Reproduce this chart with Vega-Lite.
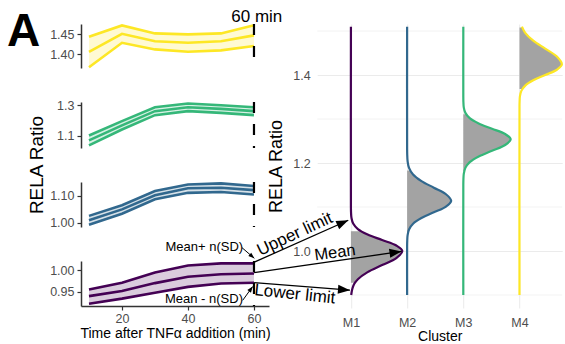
{
  "$schema": "https://vega.github.io/schema/vega-lite/v6.json",
  "padding": {"left": 6, "top": 7, "right": 0, "bottom": 0},
  "spacing": -30.8,
  "config": {
    "font": "Liberation Sans",
    "view": {"stroke": null},
    "text": {"font": "Liberation Sans"},
    "axis": {"labelFont": "Liberation Sans", "titleFont": "Liberation Sans", "labelColor": "#4d4d4d", "titleColor": "#000000", "titleFontWeight": "normal", "labelFlush": false, "labelOverlap": false}
  },
  "datasets": {
    "m1": [
      {"t": 10, "lo": 0.921, "mean": 0.939, "hi": 0.955},
      {"t": 20, "lo": 0.933, "mean": 0.951, "hi": 0.971},
      {"t": 30, "lo": 0.947, "mean": 0.970, "hi": 0.995},
      {"t": 40, "lo": 0.961, "mean": 0.985, "hi": 1.012},
      {"t": 50, "lo": 0.969, "mean": 0.991, "hi": 1.017},
      {"t": 60, "lo": 0.971, "mean": 0.993, "hi": 1.017}
    ],
    "m2": [
      {"t": 10, "lo": 0.993, "mean": 1.010, "hi": 1.026},
      {"t": 20, "lo": 1.034, "mean": 1.050, "hi": 1.065},
      {"t": 30, "lo": 1.087, "mean": 1.102, "hi": 1.118},
      {"t": 40, "lo": 1.111, "mean": 1.128, "hi": 1.142},
      {"t": 50, "lo": 1.114, "mean": 1.130, "hi": 1.146},
      {"t": 60, "lo": 1.105, "mean": 1.121, "hi": 1.136}
    ],
    "m3": [
      {"t": 10, "lo": 1.038, "mean": 1.071, "hi": 1.103},
      {"t": 20, "lo": 1.142, "mean": 1.169, "hi": 1.197},
      {"t": 30, "lo": 1.236, "mean": 1.262, "hi": 1.288},
      {"t": 40, "lo": 1.262, "mean": 1.288, "hi": 1.312},
      {"t": 50, "lo": 1.251, "mean": 1.277, "hi": 1.301},
      {"t": 60, "lo": 1.236, "mean": 1.262, "hi": 1.288}
    ],
    "m4": [
      {"t": 10, "lo": 1.368, "mean": 1.4065, "hi": 1.444},
      {"t": 20, "lo": 1.429, "mean": 1.4515, "hi": 1.4725},
      {"t": 30, "lo": 1.4125, "mean": 1.433, "hi": 1.4525},
      {"t": 40, "lo": 1.4065, "mean": 1.429, "hi": 1.450},
      {"t": 50, "lo": 1.410, "mean": 1.433, "hi": 1.4525},
      {"t": 60, "lo": 1.421, "mean": 1.4475, "hi": 1.473}
    ],
    "dens": [
      {"cluster": "M1", "r": 0.900, "x": 1.005},
      {"cluster": "M1", "r": 0.912, "x": 1.021},
      {"cluster": "M1", "r": 0.920, "x": 1.040},
      {"cluster": "M1", "r": 0.928, "x": 1.073},
      {"cluster": "M1", "r": 0.936, "x": 1.124},
      {"cluster": "M1", "r": 0.952, "x": 1.297},
      {"cluster": "M1", "r": 0.968, "x": 1.555},
      {"cluster": "M1", "r": 0.984, "x": 1.808},
      {"cluster": "M1", "r": 1.000, "x": 1.915},
      {"cluster": "M1", "r": 1.0125, "x": 1.808},
      {"cluster": "M1", "r": 1.025, "x": 1.555},
      {"cluster": "M1", "r": 1.0375, "x": 1.297},
      {"cluster": "M1", "r": 1.050, "x": 1.124},
      {"cluster": "M1", "r": 1.0625, "x": 1.040},
      {"cluster": "M1", "r": 1.075, "x": 1.010},
      {"cluster": "M1", "r": 1.0875, "x": 1.002},
      {"cluster": "M1", "r": 1.100, "x": 1.000},
      {"cluster": "M1", "r": 1.510, "x": 1.000},
      {"cluster": "M2", "r": 0.900, "x": 2.000},
      {"cluster": "M2", "r": 1.010, "x": 2.000},
      {"cluster": "M2", "r": 1.023, "x": 2.002},
      {"cluster": "M2", "r": 1.036, "x": 2.009},
      {"cluster": "M2", "r": 1.049, "x": 2.034},
      {"cluster": "M2", "r": 1.062, "x": 2.106},
      {"cluster": "M2", "r": 1.075, "x": 2.255},
      {"cluster": "M2", "r": 1.088, "x": 2.476},
      {"cluster": "M2", "r": 1.101, "x": 2.692},
      {"cluster": "M2", "r": 1.114, "x": 2.784},
      {"cluster": "M2", "r": 1.129, "x": 2.692},
      {"cluster": "M2", "r": 1.144, "x": 2.476},
      {"cluster": "M2", "r": 1.159, "x": 2.255},
      {"cluster": "M2", "r": 1.174, "x": 2.106},
      {"cluster": "M2", "r": 1.189, "x": 2.034},
      {"cluster": "M2", "r": 1.204, "x": 2.009},
      {"cluster": "M2", "r": 1.219, "x": 2.002},
      {"cluster": "M2", "r": 1.234, "x": 2.000},
      {"cluster": "M2", "r": 1.510, "x": 2.000},
      {"cluster": "M3", "r": 0.900, "x": 3.000},
      {"cluster": "M3", "r": 1.150, "x": 3.000},
      {"cluster": "M3", "r": 1.163, "x": 3.002},
      {"cluster": "M3", "r": 1.176, "x": 3.009},
      {"cluster": "M3", "r": 1.189, "x": 3.037},
      {"cluster": "M3", "r": 1.202, "x": 3.114},
      {"cluster": "M3", "r": 1.215, "x": 3.274},
      {"cluster": "M3", "r": 1.228, "x": 3.511},
      {"cluster": "M3", "r": 1.241, "x": 3.744},
      {"cluster": "M3", "r": 1.254, "x": 3.843},
      {"cluster": "M3", "r": 1.266, "x": 3.744},
      {"cluster": "M3", "r": 1.278, "x": 3.511},
      {"cluster": "M3", "r": 1.290, "x": 3.274},
      {"cluster": "M3", "r": 1.302, "x": 3.114},
      {"cluster": "M3", "r": 1.314, "x": 3.037},
      {"cluster": "M3", "r": 1.326, "x": 3.009},
      {"cluster": "M3", "r": 1.338, "x": 3.002},
      {"cluster": "M3", "r": 1.350, "x": 3.000},
      {"cluster": "M3", "r": 1.510, "x": 3.000},
      {"cluster": "M4", "r": 0.900, "x": 4.000},
      {"cluster": "M4", "r": 1.328, "x": 4.000},
      {"cluster": "M4", "r": 1.340, "x": 4.002},
      {"cluster": "M4", "r": 1.352, "x": 4.008},
      {"cluster": "M4", "r": 1.364, "x": 4.033},
      {"cluster": "M4", "r": 1.376, "x": 4.102},
      {"cluster": "M4", "r": 1.388, "x": 4.245},
      {"cluster": "M4", "r": 1.400, "x": 4.457},
      {"cluster": "M4", "r": 1.412, "x": 4.665},
      {"cluster": "M4", "r": 1.424, "x": 4.754},
      {"cluster": "M4", "r": 1.442, "x": 4.665},
      {"cluster": "M4", "r": 1.460, "x": 4.457},
      {"cluster": "M4", "r": 1.478, "x": 4.245},
      {"cluster": "M4", "r": 1.496, "x": 4.102},
      {"cluster": "M4", "r": 1.510, "x": 4.043}
    ],
    "fills": [
      {"cluster": "M1", "pos": 1, "r": 0.928, "x": 1.073},
      {"cluster": "M1", "pos": 1, "r": 0.936, "x": 1.124},
      {"cluster": "M1", "pos": 1, "r": 0.952, "x": 1.297},
      {"cluster": "M1", "pos": 1, "r": 0.968, "x": 1.555},
      {"cluster": "M1", "pos": 1, "r": 0.984, "x": 1.808},
      {"cluster": "M1", "pos": 1, "r": 1.000, "x": 1.915},
      {"cluster": "M1", "pos": 1, "r": 1.0125, "x": 1.808},
      {"cluster": "M1", "pos": 1, "r": 1.025, "x": 1.555},
      {"cluster": "M1", "pos": 1, "r": 1.0375, "x": 1.297},
      {"cluster": "M1", "pos": 1, "r": 1.045, "x": 1.181},
      {"cluster": "M2", "pos": 2, "r": 1.0425, "x": 2.018},
      {"cluster": "M2", "pos": 2, "r": 1.049, "x": 2.034},
      {"cluster": "M2", "pos": 2, "r": 1.062, "x": 2.106},
      {"cluster": "M2", "pos": 2, "r": 1.075, "x": 2.255},
      {"cluster": "M2", "pos": 2, "r": 1.088, "x": 2.476},
      {"cluster": "M2", "pos": 2, "r": 1.101, "x": 2.692},
      {"cluster": "M2", "pos": 2, "r": 1.114, "x": 2.784},
      {"cluster": "M2", "pos": 2, "r": 1.129, "x": 2.692},
      {"cluster": "M2", "pos": 2, "r": 1.144, "x": 2.476},
      {"cluster": "M2", "pos": 2, "r": 1.159, "x": 2.255},
      {"cluster": "M2", "pos": 2, "r": 1.174, "x": 2.106},
      {"cluster": "M2", "pos": 2, "r": 1.183, "x": 2.056},
      {"cluster": "M3", "pos": 3, "r": 1.182, "x": 3.018},
      {"cluster": "M3", "pos": 3, "r": 1.189, "x": 3.037},
      {"cluster": "M3", "pos": 3, "r": 1.202, "x": 3.114},
      {"cluster": "M3", "pos": 3, "r": 1.215, "x": 3.274},
      {"cluster": "M3", "pos": 3, "r": 1.228, "x": 3.511},
      {"cluster": "M3", "pos": 3, "r": 1.241, "x": 3.744},
      {"cluster": "M3", "pos": 3, "r": 1.254, "x": 3.843},
      {"cluster": "M3", "pos": 3, "r": 1.266, "x": 3.744},
      {"cluster": "M3", "pos": 3, "r": 1.278, "x": 3.511},
      {"cluster": "M3", "pos": 3, "r": 1.290, "x": 3.274},
      {"cluster": "M3", "pos": 3, "r": 1.302, "x": 3.114},
      {"cluster": "M3", "pos": 3, "r": 1.311, "x": 3.050},
      {"cluster": "M4", "pos": 4, "r": 1.368, "x": 4.050},
      {"cluster": "M4", "pos": 4, "r": 1.376, "x": 4.102},
      {"cluster": "M4", "pos": 4, "r": 1.388, "x": 4.245},
      {"cluster": "M4", "pos": 4, "r": 1.400, "x": 4.457},
      {"cluster": "M4", "pos": 4, "r": 1.412, "x": 4.665},
      {"cluster": "M4", "pos": 4, "r": 1.424, "x": 4.754},
      {"cluster": "M4", "pos": 4, "r": 1.442, "x": 4.665},
      {"cluster": "M4", "pos": 4, "r": 1.460, "x": 4.457},
      {"cluster": "M4", "pos": 4, "r": 1.478, "x": 4.245},
      {"cluster": "M4", "pos": 4, "r": 1.496, "x": 4.102},
      {"cluster": "M4", "pos": 4, "r": 1.508, "x": 4.048}
    ],
    "minor": [{"r": 0.9}, {"r": 1.1}, {"r": 1.3}, {"r": 1.5}]
  },
  "hconcat": [
    {
      "vconcat": [
        {
          "width": 188, "height": 44,
          "layer": [
            {"data": {"name": "m4"}, "mark": {"type": "area", "color": "#FDE725", "opacity": 0.2},
             "encoding": {
               "x": {"field": "t", "type": "quantitative", "scale": {"domain": [7.58, 64.55], "nice": false, "zero": false}, "axis": null},
               "y": {"field": "lo", "type": "quantitative", "scale": {"domain": [1.366, 1.476], "nice": false, "zero": false},
               "axis": {"values": [1.40, 1.45], "format": ".2f", "grid": false, "domain": true, "domainColor": "#333333", "domainWidth": 1.5, "tickColor": "#333333", "tickSize": 4, "tickWidth": 1.2, "labelPadding": 3, "labelFontSize": 12.5, "title": null}},
               "y2": {"field": "hi"}}},
            {"data": {"name": "m4"}, "mark": {"type": "line", "color": "#FDE725", "strokeWidth": 2.6}, "encoding": {"x": {"field": "t", "type": "quantitative", "axis": null}, "y": {"field": "hi", "type": "quantitative"}}},
            {"data": {"name": "m4"}, "mark": {"type": "line", "color": "#FDE725", "strokeWidth": 2.6}, "encoding": {"x": {"field": "t", "type": "quantitative", "axis": null}, "y": {"field": "mean", "type": "quantitative"}}},
            {"data": {"name": "m4"}, "mark": {"type": "line", "color": "#FDE725", "strokeWidth": 2.6}, "encoding": {"x": {"field": "t", "type": "quantitative", "axis": null}, "y": {"field": "lo", "type": "quantitative"}}},
            {"data": {"values": [{}]}, "mark": {"type": "rule", "color": "#000000", "strokeWidth": 2.2, "strokeDash": [11, 11]},
             "encoding": {"x": {"datum": 60, "type": "quantitative", "axis": null}}},
            {"data": {"values": [{}]}, "mark": {"type": "text", "text": "A", "fontSize": 46, "fontWeight": "bold", "align": "center", "baseline": "alphabetic", "color": "#000000"},
             "encoding": {"x": {"datum": -9.84, "type": "quantitative", "axis": null}, "y": {"datum": 1.421, "type": "quantitative"}}},
            {"data": {"values": [{}]}, "mark": {"type": "text", "text": "60 min", "fontSize": 17, "align": "center", "baseline": "alphabetic", "color": "#000000"},
             "encoding": {"x": {"datum": 60.85, "type": "quantitative", "axis": null}, "y": {"datum": 1.4818, "type": "quantitative"}}}
          ]
        },
        {
          "width": 188, "height": 46,
          "layer": [
            {"data": {"name": "m3"}, "mark": {"type": "area", "color": "#35B779", "opacity": 0.2},
             "encoding": {
               "x": {"field": "t", "type": "quantitative", "scale": {"domain": [7.58, 64.55], "nice": false, "zero": false}, "axis": null},
               "y": {"field": "lo", "type": "quantitative", "scale": {"domain": [1.021, 1.322], "nice": false, "zero": false},
               "axis": {"values": [1.1, 1.2, 1.3], "format": ".1f", "grid": false, "domain": true, "domainColor": "#333333", "domainWidth": 1.5, "tickColor": "#333333", "tickSize": 4, "tickWidth": 1.2, "labelPadding": 3, "labelFontSize": 12.5, "title": null}},
               "y2": {"field": "hi"}}},
            {"data": {"name": "m3"}, "mark": {"type": "line", "color": "#35B779", "strokeWidth": 2.6}, "encoding": {"x": {"field": "t", "type": "quantitative", "axis": null}, "y": {"field": "hi", "type": "quantitative"}}},
            {"data": {"name": "m3"}, "mark": {"type": "line", "color": "#35B779", "strokeWidth": 2.6}, "encoding": {"x": {"field": "t", "type": "quantitative", "axis": null}, "y": {"field": "mean", "type": "quantitative"}}},
            {"data": {"name": "m3"}, "mark": {"type": "line", "color": "#35B779", "strokeWidth": 2.6}, "encoding": {"x": {"field": "t", "type": "quantitative", "axis": null}, "y": {"field": "lo", "type": "quantitative"}}},
            {"data": {"values": [{}]}, "mark": {"type": "rule", "color": "#000000", "strokeWidth": 2.2, "strokeDash": [11, 11]},
             "encoding": {"x": {"datum": 60, "type": "quantitative", "axis": null}}}
          ]
        },
        {
          "width": 188, "height": 45,
          "layer": [
            {"data": {"name": "m2"}, "mark": {"type": "area", "color": "#31688E", "opacity": 0.2},
             "encoding": {
               "x": {"field": "t", "type": "quantitative", "scale": {"domain": [7.58, 64.55], "nice": false, "zero": false}, "axis": null},
               "y": {"field": "lo", "type": "quantitative", "scale": {"domain": [0.985, 1.151], "nice": false, "zero": false},
               "axis": {"values": [1.00, 1.05, 1.10], "format": ".2f", "grid": false, "domain": true, "domainColor": "#333333", "domainWidth": 1.5, "tickColor": "#333333", "tickSize": 4, "tickWidth": 1.2, "labelPadding": 3, "labelFontSize": 12.5,
                 "title": "RELA Ratio", "titleFontSize": 19, "titleX": -38.3, "titleY": -17.5, "titleAngle": 270, "titleBaseline": "alphabetic", "titleAlign": "center"}},
               "y2": {"field": "hi"}}},
            {"data": {"name": "m2"}, "mark": {"type": "line", "color": "#31688E", "strokeWidth": 2.6}, "encoding": {"x": {"field": "t", "type": "quantitative", "axis": null}, "y": {"field": "hi", "type": "quantitative"}}},
            {"data": {"name": "m2"}, "mark": {"type": "line", "color": "#31688E", "strokeWidth": 2.6}, "encoding": {"x": {"field": "t", "type": "quantitative", "axis": null}, "y": {"field": "mean", "type": "quantitative"}}},
            {"data": {"name": "m2"}, "mark": {"type": "line", "color": "#31688E", "strokeWidth": 2.6}, "encoding": {"x": {"field": "t", "type": "quantitative", "axis": null}, "y": {"field": "lo", "type": "quantitative"}}},
            {"data": {"values": [{}]}, "mark": {"type": "rule", "color": "#000000", "strokeWidth": 2.2, "strokeDash": [11, 11]},
             "encoding": {"x": {"datum": 60, "type": "quantitative", "axis": null}}}
          ]
        },
        {
          "width": 188, "height": 45,
          "layer": [
            {"data": {"name": "m1"}, "mark": {"type": "area", "color": "#440154", "opacity": 0.2},
             "encoding": {
               "x": {"field": "t", "type": "quantitative", "scale": {"domain": [7.58, 64.55], "nice": false, "zero": false},
                 "axis": {"values": [20, 40, 60], "grid": false, "domain": true, "domainColor": "#333333", "domainWidth": 1.5, "tickColor": "#333333", "tickSize": 4, "tickWidth": 1.2, "labelPadding": 2, "labelFontSize": 12.5,
                   "title": "Time after TNFα addition (min)", "titleFontSize": 14, "titlePadding": 2}},
               "y": {"field": "lo", "type": "quantitative", "scale": {"domain": [0.9155, 1.0226], "nice": false, "zero": false},
               "axis": {"values": [0.95, 1.00], "format": ".2f", "grid": false, "domain": true, "domainColor": "#333333", "domainWidth": 1.5, "tickColor": "#333333", "tickSize": 4, "tickWidth": 1.2, "labelPadding": 3, "labelFontSize": 12.5, "title": null}},
               "y2": {"field": "hi"}}},
            {"data": {"name": "m1"}, "mark": {"type": "line", "color": "#440154", "strokeWidth": 2.6}, "encoding": {"x": {"field": "t", "type": "quantitative"}, "y": {"field": "hi", "type": "quantitative"}}},
            {"data": {"name": "m1"}, "mark": {"type": "line", "color": "#440154", "strokeWidth": 2.6}, "encoding": {"x": {"field": "t", "type": "quantitative"}, "y": {"field": "mean", "type": "quantitative"}}},
            {"data": {"name": "m1"}, "mark": {"type": "line", "color": "#440154", "strokeWidth": 2.6}, "encoding": {"x": {"field": "t", "type": "quantitative"}, "y": {"field": "lo", "type": "quantitative"}}},
            {"data": {"values": [{}]}, "mark": {"type": "rule", "color": "#000000", "strokeWidth": 2.2, "strokeDash": [11, 11]},
             "encoding": {"x": {"datum": 60, "type": "quantitative"}}},
            {"data": {"values": [{}]}, "mark": {"type": "text", "text": "Mean+ n(SD)", "fontSize": 13, "align": "center", "baseline": "middle", "color": "#000000"},
             "encoding": {"x": {"datum": 44.94, "type": "quantitative"}, "y": {"datum": 1.0564, "type": "quantitative"}}},
            {"data": {"values": [{}]}, "mark": {"type": "text", "text": "Mean - n(SD)", "fontSize": 13, "align": "center", "baseline": "middle", "color": "#000000"},
             "encoding": {"x": {"datum": 44.85, "type": "quantitative"}, "y": {"datum": 0.9319, "type": "quantitative"}}},
            {"data": {"values": [{}]}, "mark": {"type": "rule", "color": "#000000", "strokeWidth": 1},
             "encoding": {"x": {"datum": 56.37, "type": "quantitative"}, "y": {"datum": 1.0543, "type": "quantitative"}, "x2": {"datum": 60.1}, "y2": {"datum": 1.029}}},
            {"data": {"values": [{}]}, "mark": {"type": "point", "shape": "M0,0L-2,-0.75L-2,0.75Z", "size": 36, "filled": true, "opacity": 1, "color": "#000000", "angle": 40.8},
             "encoding": {"x": {"datum": 60.1, "type": "quantitative"}, "y": {"datum": 1.029, "type": "quantitative"}}},
            {"data": {"values": [{}]}, "mark": {"type": "rule", "color": "#000000", "strokeWidth": 1},
             "encoding": {"x": {"datum": 56.58, "type": "quantitative"}, "y": {"datum": 0.929, "type": "quantitative"}, "x2": {"datum": 59.61}, "y2": {"datum": 0.9619}}},
            {"data": {"values": [{}]}, "mark": {"type": "point", "shape": "M0,0L-2,-0.75L-2,0.75Z", "size": 36, "filled": true, "opacity": 1, "color": "#000000", "angle": 306},
             "encoding": {"x": {"datum": 59.61, "type": "quantitative"}, "y": {"datum": 0.9619, "type": "quantitative"}}}
          ]
        }
      ],
      "spacing": 34,
      "bounds": "flush"
    },
    {
      "width": 245, "height": 284,
      "layer": [
        {"data": {"name": "minor"}, "mark": {"type": "rule", "color": "#ebebeb", "strokeWidth": 0.6},
         "encoding": {"y": {"field": "r", "type": "quantitative"}}},
        {"data": {"name": "fills"}, "mark": {"type": "area", "orient": "horizontal", "interpolate": "catmull-rom", "color": "#a3a3a3", "opacity": 1},
         "encoding": {"y": {"field": "r", "type": "quantitative"}, "x": {"field": "x", "type": "quantitative"}, "x2": {"field": "pos"}, "detail": {"field": "cluster"}}},
        {"data": {"name": "dens"}, "mark": {"type": "line", "interpolate": "catmull-rom", "strokeWidth": 2.2},
         "encoding": {
           "x": {"field": "x", "type": "quantitative", "scale": {"domain": [0.4, 4.76], "nice": false, "zero": false},
             "axis": {"values": [1, 2, 3, 4], "labelExpr": "'M' + datum.value", "grid": true, "gridColor": "#ebebeb", "gridWidth": 1, "domain": false, "ticks": false, "tickSize": 0, "labelPadding": 8, "labelFontSize": 12.5, "title": "Cluster", "titleFontSize": 14, "titlePadding": 1}},
           "y": {"field": "r", "type": "quantitative", "scale": {"domain": [0.8705, 1.516], "nice": false, "zero": false},
             "axis": {"values": [1.0, 1.2, 1.4], "format": ".1f", "grid": true, "gridColor": "#ebebeb", "gridWidth": 1, "domain": false, "ticks": false, "tickSize": 0, "labelPadding": 7, "labelFontSize": 12.5, "title": "RELA Ratio", "titleFontSize": 18, "titlePadding": 7}},
           "color": {"field": "cluster", "type": "nominal", "scale": {"domain": ["M1", "M2", "M3", "M4"], "range": ["#440154", "#31688E", "#35B779", "#FDE725"]}, "legend": null},
           "order": {"field": "r", "type": "quantitative"}
         }},
        {"data": {"values": [{}]}, "mark": {"type": "rule", "color": "#000000", "strokeWidth": 1.3},
         "encoding": {"x": {"datum": -0.732, "type": "quantitative"}, "y": {"datum": 0.974, "type": "quantitative"}, "x2": {"datum": 0.953}, "y2": {"datum": 1.070}}},
        {"data": {"values": [{}]}, "mark": {"type": "point", "shape": "M0,0L-2,-0.75L-2,0.75Z", "size": 144, "filled": true, "opacity": 1, "color": "#000000", "angle": 335.9},
         "encoding": {"x": {"datum": 0.953, "type": "quantitative"}, "y": {"datum": 1.070, "type": "quantitative"}}},
        {"data": {"values": [{}]}, "mark": {"type": "rule", "color": "#000000", "strokeWidth": 1.3},
         "encoding": {"x": {"datum": -0.723, "type": "quantitative"}, "y": {"datum": 0.951, "type": "quantitative"}, "x2": {"datum": 1.90}, "y2": {"datum": 0.999}}},
        {"data": {"values": [{}]}, "mark": {"type": "point", "shape": "M0,0L-2,-0.75L-2,0.75Z", "size": 144, "filled": true, "opacity": 1, "color": "#000000", "angle": 351.8},
         "encoding": {"x": {"datum": 1.90, "type": "quantitative"}, "y": {"datum": 0.999, "type": "quantitative"}}},
        {"data": {"values": [{}]}, "mark": {"type": "rule", "color": "#000000", "strokeWidth": 1.3},
         "encoding": {"x": {"datum": -0.723, "type": "quantitative"}, "y": {"datum": 0.928, "type": "quantitative"}, "x2": {"datum": 0.983}, "y2": {"datum": 0.911}}},
        {"data": {"values": [{}]}, "mark": {"type": "point", "shape": "M0,0L-2,-0.75L-2,0.75Z", "size": 144, "filled": true, "opacity": 1, "color": "#000000", "angle": 4.5},
         "encoding": {"x": {"datum": 0.983, "type": "quantitative"}, "y": {"datum": 0.911, "type": "quantitative"}}},
        {"data": {"values": [{}]}, "mark": {"type": "text", "text": "Upper limit", "fontSize": 17, "align": "center", "baseline": "middle", "angle": 335, "color": "#000000"},
         "encoding": {"x": {"datum": 0.0024, "type": "quantitative"}, "y": {"datum": 1.038, "type": "quantitative"}}},
        {"data": {"values": [{}]}, "mark": {"type": "text", "text": "Mean", "fontSize": 16.5, "align": "center", "baseline": "middle", "angle": 352, "color": "#000000"},
         "encoding": {"x": {"datum": 0.716, "type": "quantitative"}, "y": {"datum": 0.996, "type": "quantitative"}}},
        {"data": {"values": [{}]}, "mark": {"type": "text", "text": "Lower limit", "fontSize": 17, "align": "center", "baseline": "middle", "angle": 6, "color": "#000000"},
         "encoding": {"x": {"datum": 0.0024, "type": "quantitative"}, "y": {"datum": 0.9016, "type": "quantitative"}}}
      ]
    }
  ]
}
